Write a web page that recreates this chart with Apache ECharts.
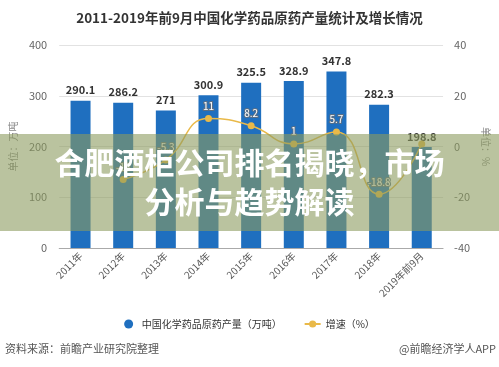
<!DOCTYPE html>
<html><head><meta charset="utf-8">
<script src="https://cdn.jsdelivr.net/npm/echarts@6/dist/echarts.min.js"></script>
<style>html,body{margin:0;padding:0;background:#fff}#c{width:499px;height:367px}</style>
</head><body><div id="c"></div>
<script>
const categories = ['2011年','2012年','2013年','2014年','2015年','2016年','2017年','2018年','2019年前9月'];
const output = [290.1, 286.2, 271, 300.9, 325.5, 328.9, 347.8, 282.3, 198.8];
const growth = [null, -13, -5.3, 11, 8.2, 1, 5.7, -18.8, 1];
const leftTicks = [0, 100, 200, 300, 400];
const rightTicks = [-40, -20, 0, 20, 40];

const F = '"Noto Sans CJK SC", "Noto Sans", sans-serif';
const growthData = growth.map((v, i) => i === growth.length - 1 ? {value: v, label: {show: false}} : v);
const chart = echarts.init(document.getElementById('c'), null, {renderer:'canvas'});
chart.setOption({
  animation:false,
  textStyle:{fontFamily:F},
  title:{text:'2011-2019年前9月中国化学药品原药产量统计及增长情况', left:'center', top:6,
    textStyle:{fontSize:13.5, fontWeight:'bold', color:'#333', fontFamily:F}},
  grid:{left:52, right:53, top:45, bottom:119},
  legend:{bottom:33, left:'center', itemGap:22, itemWidth:16, itemHeight:9,
    textStyle:{fontSize:10, color:'#333', fontFamily:F},
    data:[{name:'中国化学药品原药产量（万吨）', icon:'circle'},{name:'增速（%）'}]},
  xAxis:{type:'category', data:categories,
    axisLine:{lineStyle:{color:'#aaa'}}, axisTick:{alignWithLabel:true, lineStyle:{color:'#aaa'}},
    axisLabel:{rotate:45, fontSize:10, color:'#555', margin:6, interval:0}},
  yAxis:[
    {type:'value', min:leftTicks[0], max:leftTicks[leftTicks.length-1], interval:100,
     name:'单位：万吨', nameLocation:'middle', nameRotate:90, nameGap:40,
     nameTextStyle:{color:'#888', fontSize:10},
     axisLabel:{color:'#666', fontSize:11, margin:12},
     splitLine:{lineStyle:{color:'#e2e2e2'}}, axisLine:{show:false}, axisTick:{show:false}},
    {type:'value', min:rightTicks[0], max:rightTicks[rightTicks.length-1], interval:20,
     name:'单位：%', nameLocation:'middle', nameRotate:-90, nameGap:35,
     nameTextStyle:{color:'#888', fontSize:10},
     axisLabel:{color:'#666', fontSize:11, margin:11},
     splitLine:{show:false}, axisLine:{show:false}, axisTick:{show:false}}
  ],
  series:[
    {name:'中国化学药品原药产量（万吨）', type:'bar', data:output, barWidth:20,
     itemStyle:{color:'#1f6fbf'},
     label:{show:true, position:'top', distance:5, fontSize:11, fontWeight:'bold', color:'#333'}},
    {name:'增速（%）', type:'line', yAxisIndex:1, data:growthData, smooth:true,
     symbol:'circle', symbolSize:7, connectNulls:false,
     lineStyle:{color:'#e9b949', width:1.5}, itemStyle:{color:'#e9b949'},
     label:{show:true, position:'top', distance:4, fontSize:10, color:'#fff',
       textBorderColor:'#5a6f86', textBorderWidth:2}}
  ],
  graphic:[
    {type:'rect', left:0, top:134, shape:{width:499, height:97}, z:100,
     style:{fill:'rgba(140,155,95,0.6)'}},
    {type:'text', left:'center', top:148, z:101,
     style:{text:'合肥酒柜公司排名揭晓，市场', fill:'#fff', font:'bold 30px '+F}},
    {type:'text', left:'center', top:187, z:101,
     style:{text:'分析与趋势解读', fill:'#fff', font:'bold 30px '+F}},
    {type:'text', left:5, top:343, z:10,
     style:{text:'资料来源：前瞻产业研究院整理', fill:'#555', font:'11px '+F}},
    {type:'text', right:3, top:343, z:10,
     style:{text:'@前瞻经济学人APP', fill:'#555', font:'11px '+F}}
  ]
});
</script></body></html>
